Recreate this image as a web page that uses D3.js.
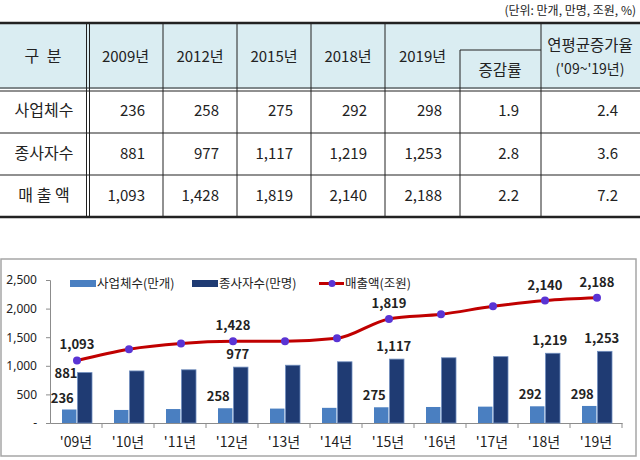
<!DOCTYPE html>
<html>
<head>
<meta charset="utf-8">
<script src="https://cdn.jsdelivr.net/npm/d3@7"></script>
<style>
body { margin: 0; background: #fff; }
svg text { font-family: "Noto Sans CJK KR", "Noto Sans", sans-serif; fill: #222; }
</style>
</head>
<body>
<div id="chart"></div>
<script>
// table data
var tableYears = ["2009년", "2012년", "2015년", "2018년", "2019년"];
var rowNames = ["사업체수", "종사자수", "매 출 액"];
var tableFirms = ["236", "258", "275", "292", "298"];
var tableWorkers = ["881", "977", "1,117", "1,219", "1,253"];
var tableSales = ["1,093", "1,428", "1,819", "2,140", "2,188"];
var changeRate = ["1.9", "2.8", "2.2"];
var cagr = ["2.4", "3.6", "7.2"];

// chart data
var years = ["'09년", "'10년", "'11년", "'12년", "'13년", "'14년", "'15년", "'16년", "'17년", "'18년", "'19년"];
var firms = [236, 228, 244, 258, 252, 265, 275, 280, 286, 292, 298];
var workers = [881, 910, 930, 977, 1010, 1070, 1117, 1140, 1160, 1219, 1253];
var sales = [1093, 1290, 1390, 1428, 1430, 1480, 1819, 1900, 2040, 2140, 2188];
var labelled = [0, 3, 6, 9, 10];
var yTicks = [0, 500, 1000, 1500, 2000, 2500];

var svg = d3.select("#chart").append("svg")
    .attr("width", 640)
    .attr("height", 460);

// ---------------- table ----------------
var colX = [0, 88, 163, 237, 311, 385, 460, 541, 640];
var rowY = [23, 89, 133, 175, 217];
var tbl = svg.append("g");

tbl.append("text")
    .attr("x", 636).attr("y", 15)
    .attr("text-anchor", "end")
    .style("font-size", "12px")
    .text("(단위: 만개, 만명, 조원, %)");

tbl.append("rect")
    .attr("x", 0).attr("y", rowY[0])
    .attr("width", 640).attr("height", rowY[1] - rowY[0])
    .attr("fill", "#daedf2");

// horizontal rules
tbl.append("line").attr("x1", 0).attr("x2", 640).attr("y1", 23).attr("y2", 23)
    .attr("stroke", "#222").attr("stroke-width", 2.5);
[88, 91].forEach(function (y) {
    tbl.append("line").attr("x1", 0).attr("x2", 640).attr("y1", y).attr("y2", y)
        .attr("stroke", "#222").attr("stroke-width", 1.2);
});
[133, 175].forEach(function (y) {
    tbl.append("line").attr("x1", 0).attr("x2", 640).attr("y1", y).attr("y2", y)
        .attr("stroke", "#222").attr("stroke-width", 1.2);
});
tbl.append("line").attr("x1", 0).attr("x2", 640).attr("y1", 217).attr("y2", 217)
    .attr("stroke", "#222").attr("stroke-width", 2.5);

// vertical rules
[86.5, 89.5].forEach(function (x) {
    tbl.append("line").attr("x1", x).attr("x2", x).attr("y1", 23).attr("y2", 217)
        .attr("stroke", "#222").attr("stroke-width", 1);
});
[163, 237, 311, 385, 541].forEach(function (x) {
    tbl.append("line").attr("x1", x).attr("x2", x).attr("y1", 23).attr("y2", 217)
        .attr("stroke", "#222").attr("stroke-width", 1);
});
tbl.append("line").attr("x1", 460).attr("x2", 460).attr("y1", 50).attr("y2", 217)
    .attr("stroke", "#222").attr("stroke-width", 1);
tbl.append("line").attr("x1", 460).attr("x2", 541).attr("y1", 50).attr("y2", 50)
    .attr("stroke", "#222").attr("stroke-width", 1);

// header texts
tbl.append("text").attr("x", 44).attr("y", 62).attr("text-anchor", "middle")
    .style("font-size", "16px").style("letter-spacing", "2px").text("구 분");
tbl.selectAll(".yearHead").data(tableYears).enter().append("text")
    .attr("x", function (d, i) { return (colX[i + 1] + colX[i + 2]) / 2; })
    .attr("y", 62)
    .attr("text-anchor", "middle")
    .style("font-size", "15px")
    .text(function (d) { return d; });
tbl.append("text").attr("x", 500).attr("y", 76).attr("text-anchor", "middle")
    .style("font-size", "15.5px").text("증감률");
tbl.append("text").attr("x", 590).attr("y", 51).attr("text-anchor", "middle")
    .style("font-size", "15.5px").text("연평균증가율");
tbl.append("text").attr("x", 590).attr("y", 74).attr("text-anchor", "middle")
    .style("font-size", "14px").text("('09~'19년)");

// body rows
var rows = [tableFirms, tableWorkers, tableSales];
rows.forEach(function (vals, r) {
    var cy = (rowY[r + 1] + rowY[r + 2]) / 2 + 5;
    tbl.append("text").attr("x", 44).attr("y", cy).attr("text-anchor", "middle")
        .style("font-size", "16px").text(rowNames[r]);
    tbl.selectAll(".v" + r).data(vals).enter().append("text")
        .attr("x", function (d, i) { return colX[i + 2] - 18; })
        .attr("y", cy)
        .attr("text-anchor", "end")
        .style("font-size", "15px")
        .text(function (d) { return d; });
    tbl.append("text").attr("x", 519).attr("y", cy).attr("text-anchor", "end")
        .style("font-size", "15px").text(changeRate[r]);
    tbl.append("text").attr("x", 618).attr("y", cy).attr("text-anchor", "end")
        .style("font-size", "15px").text(cagr[r]);
});

// ---------------- chart ----------------
svg.append("rect")
    .attr("x", 1).attr("y", 259)
    .attr("width", 635).attr("height", 197)
    .attr("fill", "none")
    .attr("stroke", "#a6a6a6")
    .attr("stroke-width", 1.5);

var x = d3.scaleBand().domain(years).range([50, 622]);
var y = d3.scaleLinear().domain([0, 2500]).range([423, 280]);
var x1 = d3.scaleBand().domain(["firms", "workers"]).range([0, 30]).paddingInner(0.07);
var groupOff = 12;

var yAxis = d3.axisLeft(y)
    .tickValues(yTicks)
    .tickSize(4)
    .tickPadding(9)
    .tickFormat(function (d) { return d === 0 ? "-" : d3.format(",")(d); });
var gy = svg.append("g").attr("transform", "translate(50,0)").call(yAxis);
gy.select(".domain").attr("stroke", "#8c8c8c");
gy.selectAll(".tick line").attr("stroke", "#8c8c8c");
gy.selectAll(".tick text")
    .style("font-family", "'Noto Sans', sans-serif")
    .style("font-size", "12px")
    .attr("fill", "#222");

var xAxis = d3.axisBottom(x).tickSize(0).tickPadding(14);
var gx = svg.append("g").attr("transform", "translate(0,423)").call(xAxis);
gx.select(".domain").attr("stroke", "#8c8c8c");
gx.selectAll(".tick text")
    .style("font-size", "14px")
    .attr("fill", "#222");
// boundary ticks between categories
gx.selectAll(".sep").data(years).enter().append("line")
    .attr("x1", function (d) { return x(d) + x.bandwidth(); })
    .attr("x2", function (d) { return x(d) + x.bandwidth(); })
    .attr("y1", 0).attr("y2", 5)
    .attr("stroke", "#8c8c8c");

// bars
svg.append("g").selectAll("rect")
    .data(firms)
    .enter().append("rect")
    .attr("x", function (d, i) { return x(years[i]) + groupOff + x1("firms"); })
    .attr("y", function (d) { return y(d); })
    .attr("width", x1.bandwidth())
    .attr("height", function (d) { return y(0) - y(d); })
    .attr("fill", "#4a7fc1");

svg.append("g").selectAll("rect")
    .data(workers)
    .enter().append("rect")
    .attr("x", function (d, i) { return x(years[i]) + groupOff + x1("workers"); })
    .attr("y", function (d) { return y(d); })
    .attr("width", x1.bandwidth())
    .attr("height", function (d) { return y(0) - y(d); })
    .attr("fill", "#1f3b73")
    .attr("stroke", "#6f8dbd")
    .attr("stroke-width", 0.8);

// line
var cx = function (d, i) { return x(years[i]) + x.bandwidth() / 2 + 1; };
var line = d3.line()
    .x(cx)
    .y(function (d) { return y(d); })
    .curve(d3.curveMonotoneX);
svg.append("path")
    .datum(sales)
    .attr("d", line)
    .attr("fill", "none")
    .attr("stroke", "#c00000")
    .attr("stroke-width", 3);
svg.append("g").selectAll("circle")
    .data(sales)
    .enter().append("circle")
    .attr("cx", cx)
    .attr("cy", function (d) { return y(d); })
    .attr("r", 4)
    .attr("fill", "#5a34d4");

// value labels
var fmt = d3.format(",");
var lab = svg.append("g").style("font-size", "13px").style("font-weight", "bold");
labelled.forEach(function (i) {
    lab.append("text")
        .attr("x", cx(sales[i], i))
        .attr("y", y(sales[i]) - 11)
        .attr("text-anchor", "middle")
        .text(fmt(sales[i]));
    var dx = x(years[i]) + groupOff + x1("workers");
    if (i === 0) {
        lab.append("text")
            .attr("x", dx)
            .attr("y", y(workers[i]) + 5)
            .attr("text-anchor", "end")
            .text(fmt(workers[i]));
    } else {
        lab.append("text")
            .attr("x", dx + x1.bandwidth() / 2 - 3)
            .attr("y", y(workers[i]) - 8)
            .attr("text-anchor", "middle")
            .text(fmt(workers[i]));
    }
    lab.append("text")
        .attr("x", x(years[i]) + groupOff + x1("firms") + x1.bandwidth() / 2 - 7)
        .attr("y", y(firms[i]) - 7)
        .attr("text-anchor", "middle")
        .text(fmt(firms[i]));
});

// legend
var leg = svg.append("g").style("font-size", "12.5px");
leg.append("rect").attr("x", 70).attr("y", 280).attr("width", 26).attr("height", 7).attr("fill", "#4a7fc1");
leg.append("text").attr("x", 97).attr("y", 288).attr("fill", "#333").text("사업체수(만개)");
leg.append("rect").attr("x", 192).attr("y", 280).attr("width", 26).attr("height", 7).attr("fill", "#1f3b73");
leg.append("text").attr("x", 219).attr("y", 288).attr("fill", "#333").text("종사자수(만명)");
leg.append("line").attr("x1", 319).attr("x2", 344).attr("y1", 283.5).attr("y2", 283.5)
    .attr("stroke", "#c00000").attr("stroke-width", 3);
leg.append("circle").attr("cx", 332).attr("cy", 283.5).attr("r", 3.5).attr("fill", "#5a34d4");
leg.append("text").attr("x", 345).attr("y", 288).attr("fill", "#333").text("매출액(조원)");
</script>
</body>
</html>
